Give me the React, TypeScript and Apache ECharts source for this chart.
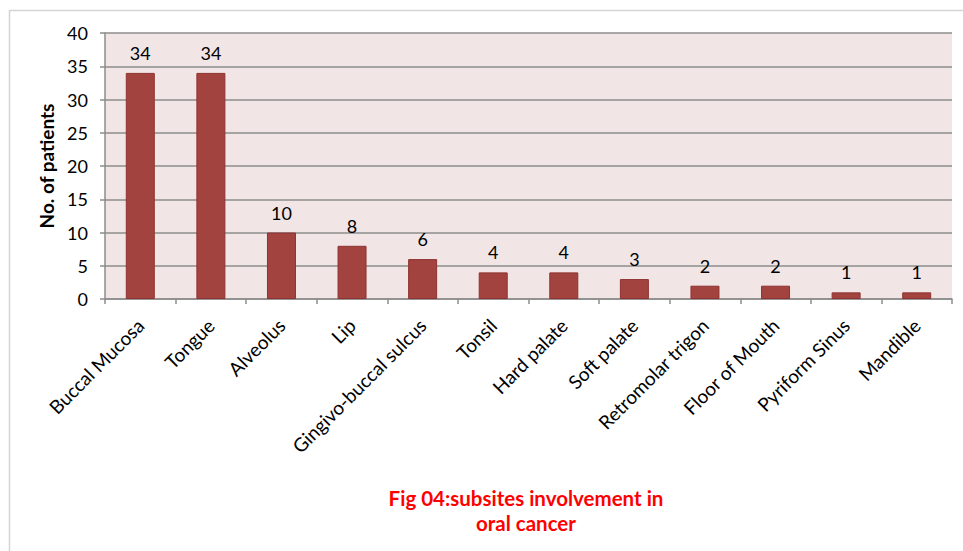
import React, { useEffect, useRef } from "react";
import * as echarts from "echarts";

const categories = [
  "Buccal Mucosa",
  "Tongue",
  "Alveolus",
  "Lip",
  "Gingivo-buccal sulcus",
  "Tonsil",
  "Hard palate",
  "Soft palate",
  "Retromolar trigon",
  "Floor of Mouth",
  "Pyriform Sinus",
  "Mandible",
];
const patients = [34, 34, 10, 8, 6, 4, 4, 3, 2, 2, 1, 1];
const titleLines = ["Fig 04:subsites involvement in", "oral cancer"];
const yAxisTitle = "No. of patients";

const FONT = "Lato, 'Open Sans', sans-serif";

export default function App() {
  const ref = useRef<HTMLDivElement>(null);
  useEffect(() => {
    if (!ref.current) return;
    const chart = echarts.init(ref.current, undefined, { renderer: "svg" });
    chart.setOption({
      animation: false,
      backgroundColor: "#ffffff",
      textStyle: { fontFamily: FONT },
      graphic: [
        {
          type: "rect",
          shape: { x: 9.5, y: 10.5, width: 1000, height: 600 },
          style: { fill: "none", stroke: "#d4d4d4", lineWidth: 1.5 },
          silent: true,
        },
        {
          type: "text",
          x: 526,
          y: 485,
          style: {
            text: titleLines.join("\n"),
            fill: "#ff0000",
            font: `bold 20.5px ${FONT}`,
            align: "center",
            verticalAlign: "top",
            lineHeight: 25,
          },
        },
      ],
      grid: {
        left: 105,
        right: 11,
        top: 33,
        bottom: 252,
        show: true,
        backgroundColor: "#F2E5E5",
        borderWidth: 0,
      },
      xAxis: {
        type: "category",
        data: categories,
        axisLine: { show: true, lineStyle: { color: "#8c8c8c", width: 1.5 } },
        axisTick: { show: true, length: 5, alignWithLabel: false, lineStyle: { color: "#8c8c8c", width: 1.5 } },
        axisLabel: {
          interval: 0,
          rotate: 45,
          fontSize: 19,
          color: "#000",
          fontFamily: FONT,
          margin: 23,
        },
      },
      yAxis: {
        type: "value",
        min: 0,
        max: 40,
        interval: 5,
        name: yAxisTitle,
        nameLocation: "middle",
        nameGap: 47,
        nameRotate: 90,
        nameTextStyle: { fontSize: 19, fontWeight: "bold", color: "#000", fontFamily: FONT },
        axisLine: { show: true, lineStyle: { color: "#8c8c8c", width: 1.5 } },
        axisTick: { show: true, length: 5, lineStyle: { color: "#8c8c8c", width: 1.5 } },
        axisLabel: { fontSize: 18, color: "#000", fontFamily: FONT, margin: 17 },
        splitLine: { show: true, lineStyle: { color: "#8c8c8c", width: 1.5 } },
      },
      series: [
        {
          type: "bar",
          data: patients,
          barWidth: 29,
          itemStyle: { color: "#A3433F", borderColor: "#8E3330", borderWidth: 1 },
          label: {
            show: true,
            position: "top",
            distance: 11,
            fontSize: 18,
            color: "#000",
            fontFamily: FONT,
          },
        },
      ],
    });
    return () => chart.dispose();
  }, []);
  return (
    <div
      ref={ref}
      style={{ position: "fixed", left: 0, top: 0, width: 963, height: 551 }}
    />
  );
}
